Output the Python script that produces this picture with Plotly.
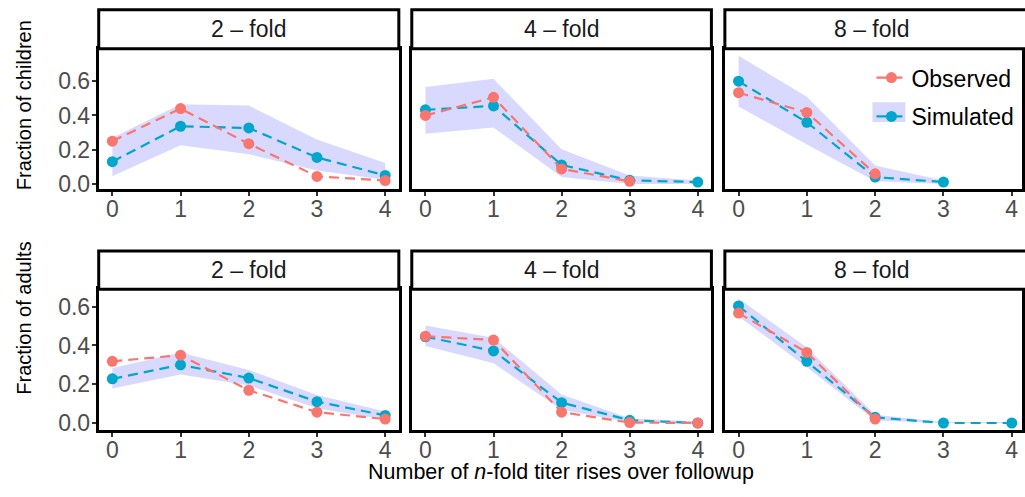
import plotly.graph_objects as go
from plotly.subplots import make_subplots

# ---------------- data ----------------
x_vals = [0, 1, 2, 3, 4]
folds = ["2 – fold", "4 – fold", "8 – fold"]
groups = ["children", "adults"]

# children (top row)
obs_child_2 = [0.25, 0.44, 0.235, 0.044, 0.02]
sim_child_2 = [0.13, 0.337, 0.327, 0.155, 0.05]
lo_child_2 = [0.045, 0.226, 0.174, 0.079, 0.025]
hi_child_2 = [0.27, 0.465, 0.458, 0.26, 0.122]

obs_child_4 = [0.40, 0.506, 0.088, 0.015, None]
sim_child_4 = [0.433, 0.456, 0.111, 0.021, 0.011]
lo_child_4 = [0.293, 0.33, 0.04, 0.0, 0.0]
hi_child_4 = [0.567, 0.615, 0.203, 0.05, 0.02]

obs_child_8 = [0.533, 0.418, 0.059, None, None]
sim_child_8 = [0.60, 0.36, 0.04, 0.011, None]
lo_child_8 = [0.452, 0.23, 0.015, 0.0, None]
hi_child_8 = [0.749, 0.51, 0.107, 0.02, None]

# adults (bottom row)
obs_adult_2 = [0.318, 0.35, 0.169, 0.056, 0.02]
sim_adult_2 = [0.228, 0.30, 0.232, 0.11, 0.039]
lo_adult_2 = [0.178, 0.25, 0.194, 0.076, 0.017]
hi_adult_2 = [0.284, 0.364, 0.274, 0.144, 0.059]

obs_adult_4 = [0.448, 0.428, 0.056, 0.002, 0.0]
sim_adult_4 = [0.445, 0.372, 0.105, 0.014, 0.0]
lo_adult_4 = [0.397, 0.308, 0.068, 0.003, 0.0]
hi_adult_4 = [0.503, 0.44, 0.147, 0.025, 0.008]

obs_adult_8 = [0.567, 0.364, 0.02, None, None]
sim_adult_8 = [0.604, 0.318, 0.029, 0.0, 0.0]
lo_adult_8 = [0.55, 0.288, 0.013, 0.0, 0.0]
hi_adult_8 = [0.643, 0.39, 0.042, 0.005, 0.005]

y_titles = ["Fraction of children", "Fraction of adults"]
x_title = "Number of <i>n</i>-fold titer rises over followup"
y_tickvals = [0.0, 0.2, 0.4, 0.6]
y_ticktext = ["0.0", "0.2", "0.4", "0.6"]

panels = {
    (1, 1): (obs_child_2, sim_child_2, lo_child_2, hi_child_2),
    (1, 2): (obs_child_4, sim_child_4, lo_child_4, hi_child_4),
    (1, 3): (obs_child_8, sim_child_8, lo_child_8, hi_child_8),
    (2, 1): (obs_adult_2, sim_adult_2, lo_adult_2, hi_adult_2),
    (2, 2): (obs_adult_4, sim_adult_4, lo_adult_4, hi_adult_4),
    (2, 3): (obs_adult_8, sim_adult_8, lo_adult_8, hi_adult_8),
}

# ---------------- style ----------------
W, H = 1025, 497
OBS_COL = "#F8766D"
SIM_COL = "#00A6CC"
RIB_COL = "rgba(0,0,255,0.15)"
FONT = "Liberation Sans, Arial, Helvetica, sans-serif"
TICK_COL = "#4D4D4D"
DASH = "10px,6px"

col_px = [(99, 400), (413, 713.5), (727, 1025)]
row_px = [(49.5, 192), (294, 437)]
strip_px = [(10, 49.5), (255, 294)]
x_ranges = [[-0.2, 4.2], [-0.2, 4.2], [-0.2, 4.15]]
y_ranges = [[-0.029, 0.79], [-0.036, 0.69]]

fig = make_subplots(rows=2, cols=3)

for (r, c), (obs, sim, lo, hi) in panels.items():
    rx = [x for x, v in zip(x_vals, lo) if v is not None]
    rlo = [v for v in lo if v is not None]
    rhi = [v for v in hi if v is not None]
    fig.add_trace(go.Scatter(
        x=rx + rx[::-1], y=rhi + rlo[::-1], fill="toself", mode="lines",
        line=dict(width=0), fillcolor=RIB_COL, showlegend=False, hoverinfo="skip"),
        row=r, col=c)
    fig.add_trace(go.Scatter(
        x=x_vals, y=sim, mode="lines+markers", name="Simulated",
        line=dict(color=SIM_COL, width=2.2, dash=DASH),
        marker=dict(color=SIM_COL, size=11),
        legendgroup="sim", legendrank=2,
        showlegend=(r == 1 and c == 1), connectgaps=False),
        row=r, col=c)
    fig.add_trace(go.Scatter(
        x=x_vals, y=obs, mode="lines+markers", name="Observed",
        line=dict(color=OBS_COL, width=2.2, dash=DASH),
        marker=dict(color=OBS_COL, size=11),
        legendgroup="obs", legendrank=1,
        showlegend=(r == 1 and c == 1), connectgaps=False),
        row=r, col=c)

for r in (1, 2):
    for c in (1, 2, 3):
        x0, x1 = col_px[c - 1]
        y0, y1 = row_px[r - 1]
        fig.update_xaxes(
            domain=[x0 / W, x1 / W], range=x_ranges[c - 1],
            tickvals=x_vals, ticktext=[str(v) for v in x_vals],
            showline=True, mirror=True, linecolor="black", linewidth=3,
            ticks="outside", ticklen=4, tickwidth=1.5, tickcolor="#333333",
            ticklabelstandoff=-7,
            showgrid=False, zeroline=False,
            tickfont=dict(family=FONT, size=23, color=TICK_COL),
            row=r, col=c)
        fig.update_yaxes(
            domain=[1 - y1 / H, 1 - y0 / H], range=y_ranges[r - 1],
            tickvals=y_tickvals, ticktext=y_ticktext,
            showticklabels=(c == 1),
            ticks="outside" if c == 1 else "", ticklen=4, tickwidth=1.5,
            tickcolor="#333333", ticklabelstandoff=-3,
            showline=True, mirror=True, linecolor="black", linewidth=3,
            showgrid=False, zeroline=False,
            tickfont=dict(family=FONT, size=23, color=TICK_COL),
            row=r, col=c)

shapes = []
annotations = []
for r in range(2):
    s0, s1 = strip_px[r]
    for c in range(3):
        x0, x1 = col_px[c]
        shapes.append(dict(type="rect", xref="paper", yref="paper",
                           x0=x0 / W, x1=(x1 + (6 if c == 2 else 0)) / W,
                           y0=1 - s1 / H, y1=1 - s0 / H,
                           line=dict(color="black", width=3), fillcolor="white",
                           layer="above"))
        annotations.append(dict(text=folds[c], xref="paper", yref="paper",
                                x=(col_px[c][0] + min(col_px[c][1], 1022)) / 2 / W,
                                y=1 - (s0 + s1) / 2 / H, showarrow=False,
                                xanchor="center", yanchor="middle",
                                font=dict(family=FONT, size=23, color="#1A1A1A")))

# legend swatch background for Simulated
shapes.append(dict(type="rect", xref="paper", yref="paper",
                   x0=875 / W, x1=908 / W, y0=1 - 124 / H, y1=1 - 104 / H,
                   line=dict(width=0), fillcolor=RIB_COL, layer="below"))

annotations.append(dict(text=y_titles[0], xref="paper", yref="paper",
                        x=24 / W, y=1 - 107 / H, textangle=-90, showarrow=False,
                        xanchor="center", yanchor="middle",
                        font=dict(family=FONT, size=20, color="black")))
annotations.append(dict(text=y_titles[1], xref="paper", yref="paper",
                        x=24 / W, y=1 - 323 / H, textangle=-90, showarrow=False,
                        xanchor="center", yanchor="middle",
                        font=dict(family=FONT, size=20, color="black")))
annotations.append(dict(text=x_title, xref="paper", yref="paper",
                        x=563 / W, y=1 - 480 / H, showarrow=False,
                        xanchor="center", yanchor="middle",
                        font=dict(family=FONT, size=21.5, color="black")))

fig.update_layout(
    width=W, height=H, margin=dict(l=0, r=0, t=0, b=0),
    paper_bgcolor="white", plot_bgcolor="white",
    shapes=shapes, annotations=annotations,
    showlegend=True,
    legend=dict(x=874 / W, y=1 - 57 / H, xanchor="left", yanchor="top",
                bgcolor="rgba(0,0,0,0)", borderwidth=0,
                font=dict(family=FONT, size=23, color="black"),
                itemwidth=30, tracegroupgap=6, traceorder="grouped"),
)

fig.write_html("out.html", config={"displayModeBar": False},
               post_script="document.body.style.margin='0px';")
